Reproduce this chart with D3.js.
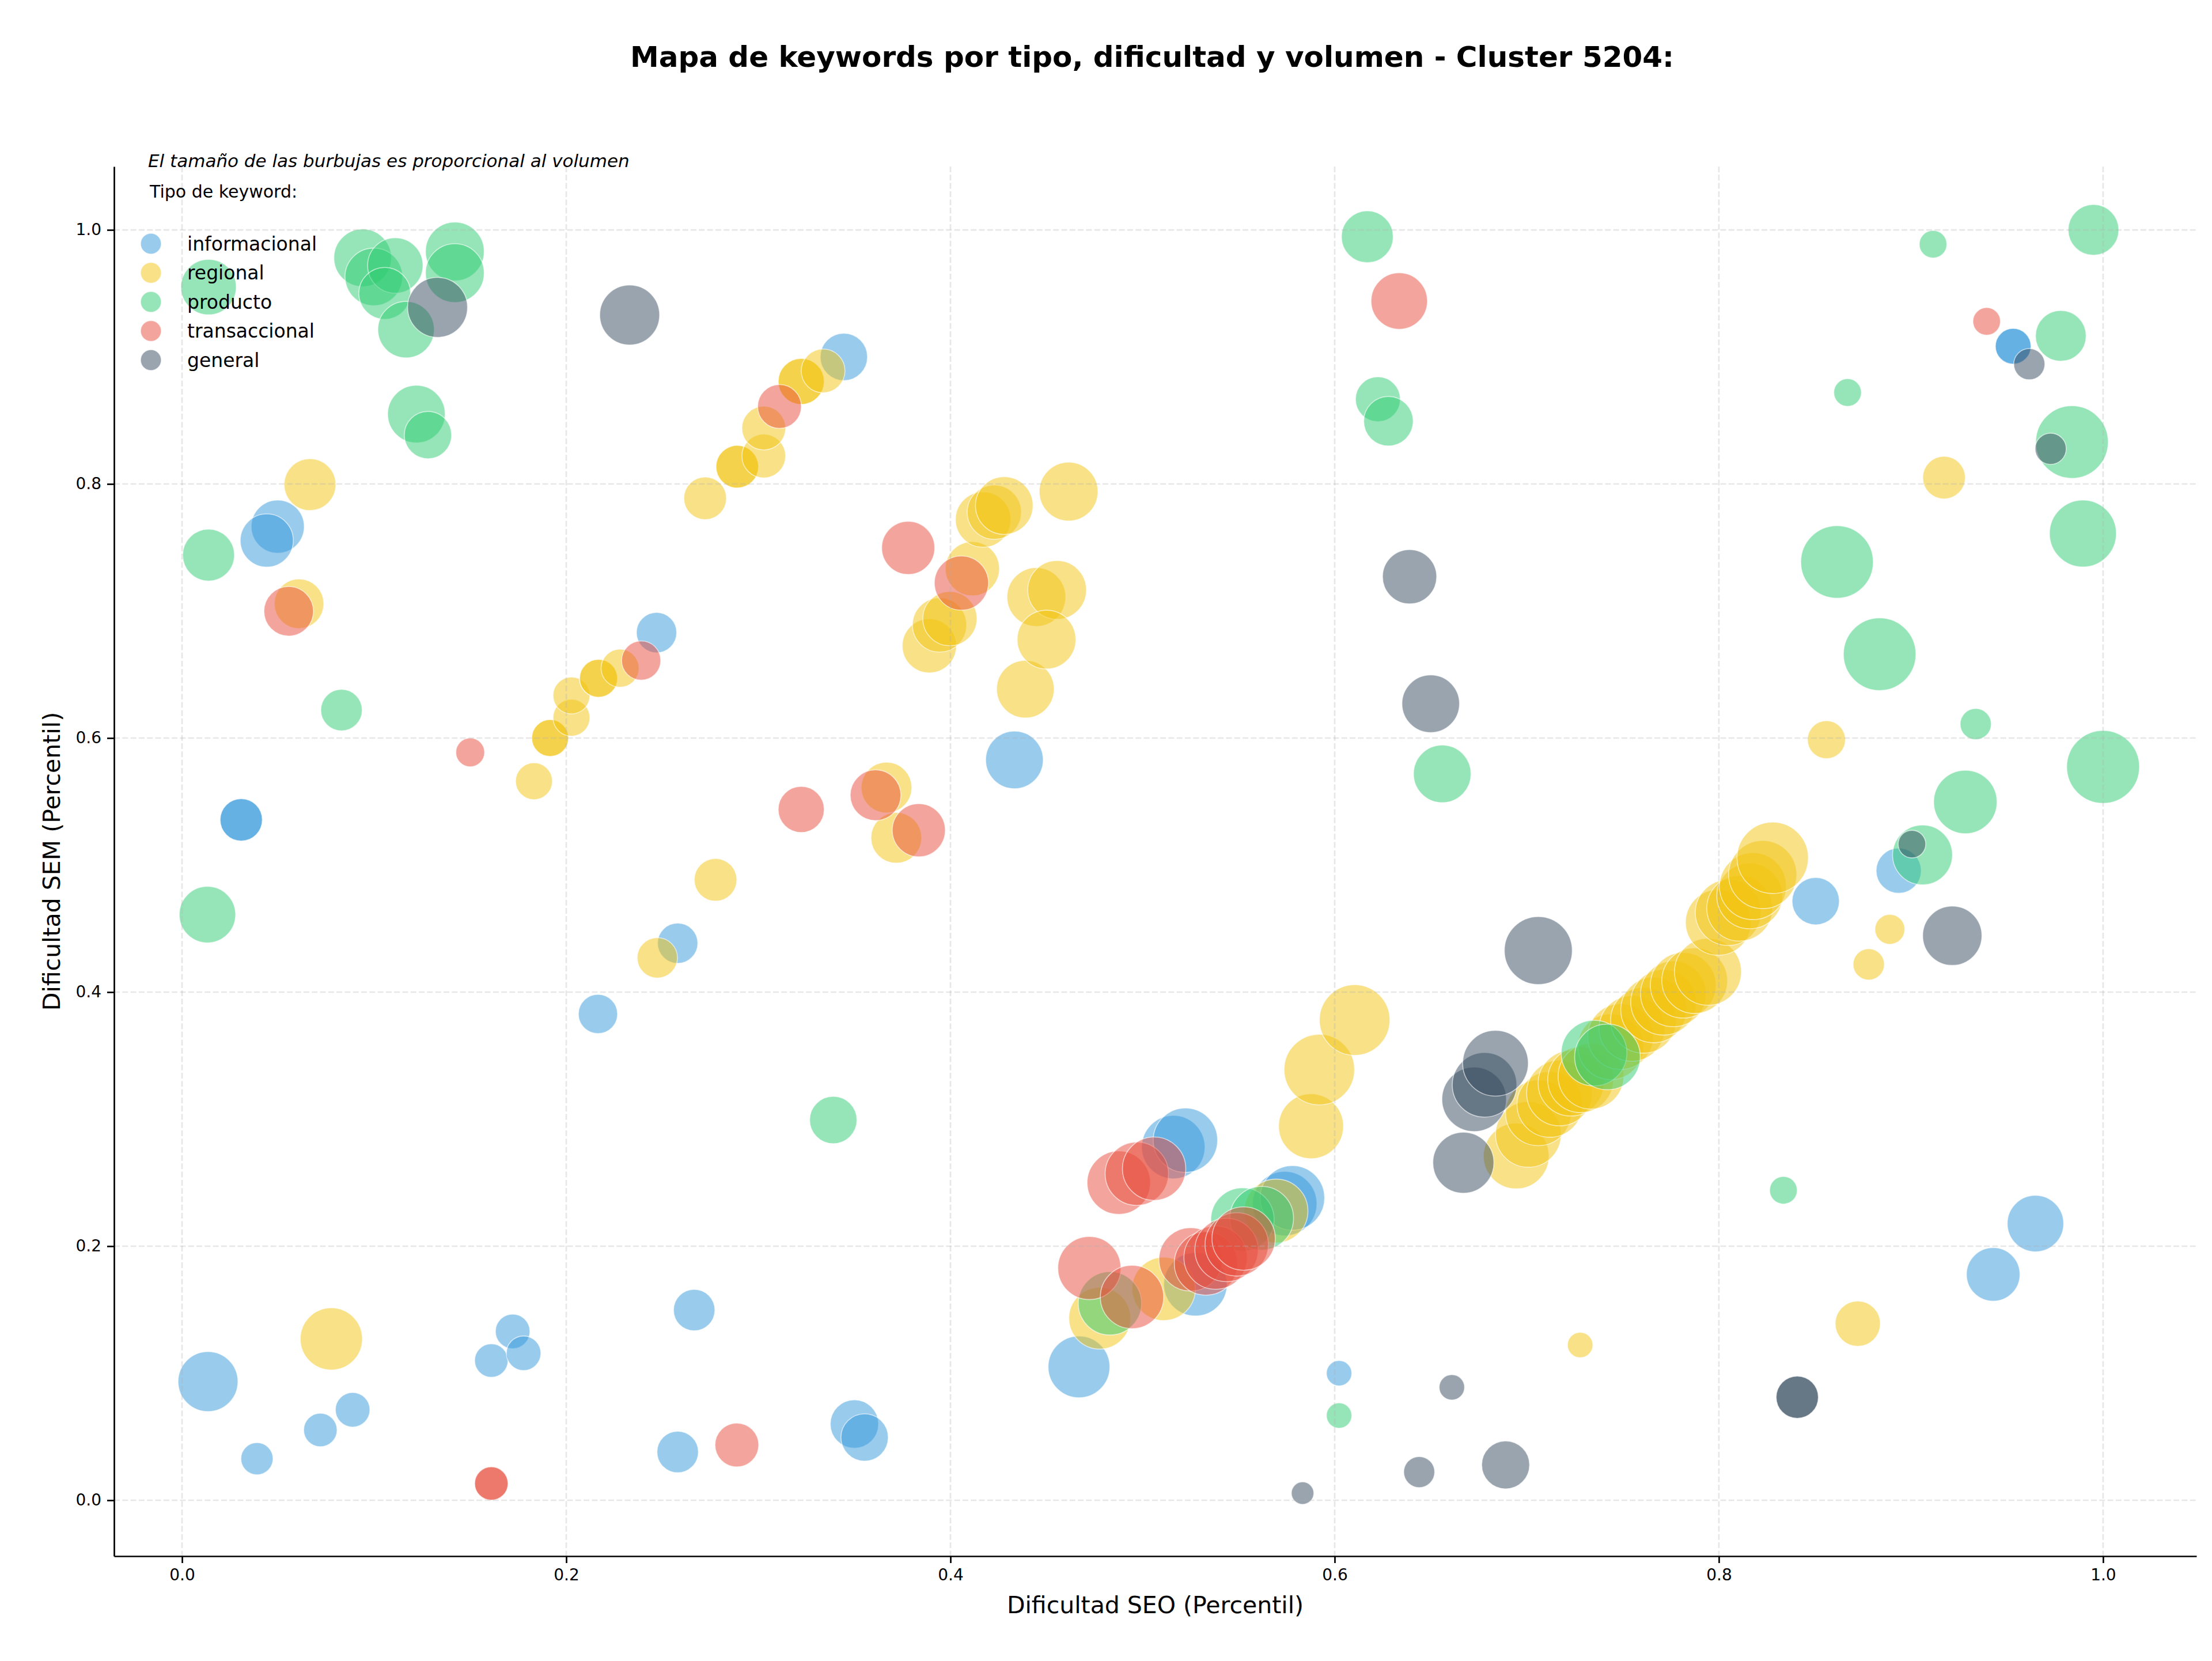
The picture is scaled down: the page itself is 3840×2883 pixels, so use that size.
<!DOCTYPE html>
<html>
<head>
<meta charset="utf-8">
<script src="https://cdn.jsdelivr.net/npm/d3@7"></script>
<style>
  html, body { margin: 0; padding: 0; background: #ffffff; }
  svg { display: block; }
  text { font-family: "DejaVu Sans", sans-serif; }
</style>
</head>
<body>
<script>
// ---------------- DATA ----------------
const categories = ["informacional", "regional", "producto", "transaccional", "general"];
const categoryColors = ["#3498db", "#f1c40f", "#2ecc71", "#e74c3c", "#34495e"];

// [dificultad SEO, dificultad SEM, volumen]
const informacional = [
  [0.0135, 0.0934, 433], [0.0390, 0.0327, 125], [0.0720, 0.0553, 135], [0.0888, 0.0712, 144],
  [0.1610, 0.1100, 135], [0.1721, 0.1329, 144], [0.1778, 0.1157, 144], [0.2666, 0.1497, 207],
  [0.2580, 0.0380, 207], [0.3500, 0.0600, 282], [0.3553, 0.0494, 270], [0.2165, 0.3828, 185],
  [0.2580, 0.4385, 196], [0.2470, 0.6830, 196], [0.0308, 0.5356, 216], [0.0308, 0.5356, 216],
  [0.0498, 0.7664, 340], [0.0441, 0.7555, 340], [0.3445, 0.9000, 270], [0.4333, 0.5828, 400],
  [0.4669, 0.1050, 460], [0.5160, 0.2780, 484], [0.5223, 0.2834, 500], [0.5275, 0.1700, 484],
  [0.5740, 0.2335, 500], [0.5780, 0.2380, 502], [0.6023, 0.1000, 78], [0.8504, 0.4716, 270],
  [0.8936, 0.4956, 246], [0.9428, 0.1778, 346], [0.9648, 0.2178, 384], [0.9532, 0.9084, 154],
  [0.9532, 0.9084, 154]
];

const regional = [
  [0.0666, 0.7995, 324], [0.0609, 0.7057, 296], [0.0777, 0.1270, 466], [0.1832, 0.5660, 164],
  [0.1916, 0.6000, 164], [0.1916, 0.6000, 164], [0.2027, 0.6160, 164], [0.2027, 0.6335, 164],
  [0.2168, 0.6470, 174], [0.2168, 0.6470, 174], [0.2280, 0.6550, 174], [0.2474, 0.4270, 196],
  [0.2777, 0.4884, 219], [0.2723, 0.7887, 219], [0.2890, 0.8136, 219], [0.2890, 0.8136, 219],
  [0.3028, 0.8220, 231], [0.3028, 0.8440, 231], [0.3223, 0.8807, 256], [0.3223, 0.8807, 256],
  [0.3337, 0.8890, 231], [0.3667, 0.5610, 310], [0.3718, 0.5215, 310], [0.3890, 0.6726, 354],
  [0.3943, 0.6890, 354], [0.3997, 0.6940, 354], [0.4114, 0.7333, 354], [0.4170, 0.7720, 370],
  [0.4228, 0.7778, 354], [0.4280, 0.7830, 400], [0.4615, 0.7940, 416], [0.4390, 0.6385, 400],
  [0.4447, 0.7110, 416], [0.4555, 0.7166, 416], [0.4500, 0.6775, 416], [0.4777, 0.1433, 460],
  [0.5110, 0.1664, 484], [0.5695, 0.2277, 490], [0.5877, 0.2944, 508], [0.5920, 0.3390, 600],
  [0.6104, 0.3780, 600], [0.7278, 0.1222, 78], [0.6945, 0.2710, 520], [0.7008, 0.2880, 520],
  [0.7060, 0.3050, 520], [0.7120, 0.3116, 520], [0.7170, 0.3206, 520], [0.7230, 0.3283, 520],
  [0.7280, 0.3310, 520], [0.7334, 0.3338, 520], [0.7437, 0.3570, 520], [0.7488, 0.3650, 520],
  [0.7547, 0.3714, 520], [0.7607, 0.3778, 520], [0.7660, 0.3860, 520], [0.7712, 0.3920, 520],
  [0.7763, 0.3986, 520], [0.7814, 0.4054, 520], [0.7874, 0.4090, 520], [0.7943, 0.4160, 540],
  [0.7997, 0.4549, 520], [0.8048, 0.4626, 520], [0.8108, 0.4660, 520], [0.8160, 0.4757, 520],
  [0.8177, 0.4834, 540], [0.8228, 0.4925, 560], [0.8280, 0.5057, 615], [0.8560, 0.5987, 174],
  [0.8723, 0.1390, 246], [0.8780, 0.4218, 118], [0.8890, 0.4494, 108], [0.9172, 0.8050, 219]
];

const producto = [
  [0.0138, 0.9550, 370], [0.0940, 0.9780, 400], [0.0998, 0.9630, 400], [0.1110, 0.9720, 370],
  [0.1055, 0.9500, 324], [0.1420, 0.9830, 416], [0.1420, 0.9660, 416], [0.1166, 0.9215, 384],
  [0.1220, 0.8550, 400], [0.1280, 0.8385, 270], [0.0138, 0.7440, 324], [0.0830, 0.6220, 207],
  [0.0132, 0.4610, 384], [0.3390, 0.2993, 270], [0.4830, 0.1550, 484], [0.5520, 0.2210, 484],
  [0.5620, 0.2220, 490], [0.6023, 0.0667, 78], [0.6170, 0.9946, 324], [0.6225, 0.8667, 243],
  [0.6280, 0.8494, 296], [0.6560, 0.5718, 400], [0.7350, 0.3520, 520], [0.7420, 0.3490, 520],
  [0.8336, 0.2440, 92], [0.8615, 0.7386, 635], [0.8670, 0.8720, 92], [0.8837, 0.6660, 635],
  [0.9060, 0.5080, 433], [0.9115, 0.9887, 92], [0.9283, 0.5497, 485], [0.9337, 0.6110, 117],
  [0.9780, 0.9166, 310], [0.9838, 0.8330, 635], [0.9895, 0.7610, 540], [0.9950, 1.0000, 310],
  [1.0000, 0.5773, 640]
];

const transaccional = [
  [0.0555, 0.6998, 296], [0.1500, 0.5887, 100], [0.1610, 0.0132, 135], [0.1610, 0.0132, 135],
  [0.2390, 0.6610, 185], [0.2888, 0.0435, 231], [0.3110, 0.8610, 231], [0.3223, 0.5438, 256],
  [0.3610, 0.5550, 310], [0.3835, 0.5274, 340], [0.3780, 0.7497, 340], [0.4057, 0.7220, 354],
  [0.4723, 0.1828, 480], [0.4876, 0.2500, 484], [0.4945, 0.1600, 484], [0.4970, 0.2570, 484],
  [0.5060, 0.2610, 484], [0.5250, 0.1896, 484], [0.5330, 0.1864, 484], [0.5380, 0.1910, 484],
  [0.5437, 0.1970, 484], [0.5490, 0.2014, 484], [0.5526, 0.2060, 484], [0.6336, 0.9440, 384],
  [0.9394, 0.9280, 92]
];

const general = [
  [0.1330, 0.9390, 433], [0.2330, 0.9330, 433], [0.5833, 0.0056, 61], [0.6390, 0.7270, 354],
  [0.6440, 0.0222, 116], [0.6500, 0.6270, 400], [0.6610, 0.0889, 78], [0.6670, 0.2657, 450],
  [0.6726, 0.3156, 502], [0.6780, 0.3270, 502], [0.6837, 0.3440, 520], [0.6890, 0.0278, 277],
  [0.7060, 0.4327, 557], [0.8408, 0.0811, 216], [0.8408, 0.0811, 216], [0.9005, 0.5165, 92],
  [0.9215, 0.4444, 424], [0.9616, 0.8943, 117], [0.9727, 0.8277, 117]
];

const seriesData = [informacional, regional, producto, transaccional, general];
const xTicks = [0.0, 0.2, 0.4, 0.6, 0.8, 1.0];
const yTicks = [0.0, 0.2, 0.4, 0.6, 0.8, 1.0];

const titleText = "Mapa de keywords por tipo, dificultad y volumen - Cluster 5204:";
const xLabel = "Dificultad SEO (Percentil)";
const yLabel = "Dificultad SEM (Percentil)";
const noteText = "El tamaño de las burbujas es proporcional al volumen";
const legendTitle = "Tipo de keyword:";

// ---------------- LAYOUT ----------------
const W = 3840, H = 2883;
const plot = { left: 198, right: 3813, top: 289, bottom: 2701 };

const svg = d3.select("body").append("svg")
  .attr("width", W).attr("height", H)
  .attr("viewBox", `0 0 ${W} ${H}`);

svg.append("rect").attr("width", W).attr("height", H).attr("fill", "#ffffff");

const x = d3.scaleLinear().domain([-0.0354, 1.0486]).range([plot.left, plot.right]);
const y = d3.scaleLinear().domain([-0.044, 1.0499]).range([plot.bottom, plot.top]);
const r = d3.scaleSqrt().domain([0, 1000]).range([0, 79]);

// clip
svg.append("clipPath").attr("id", "plotclip")
  .append("rect")
  .attr("x", plot.left).attr("y", plot.top)
  .attr("width", plot.right - plot.left).attr("height", plot.bottom - plot.top);

// bubbles (drawn per category in legend order)
const bubbles = svg.append("g").attr("clip-path", "url(#plotclip)");
seriesData.forEach((data, i) => {
  bubbles.append("g")
    .selectAll("circle")
    .data(data)
    .join("circle")
    .attr("cx", d => x(d[0]))
    .attr("cy", d => y(d[1]))
    .attr("r", d => r(d[2]))
    .attr("fill", categoryColors[i])
    .attr("fill-opacity", 0.5)
    .attr("stroke", "#ffffff")
    .attr("stroke-opacity", 0.6)
    .attr("stroke-width", 1.6);
});

// grid (above bubbles, like matplotlib default)
const grid = svg.append("g");
grid.selectAll("line.gx").data(xTicks).join("line")
  .attr("x1", d => x(d)).attr("x2", d => x(d))
  .attr("y1", plot.top).attr("y2", plot.bottom)
  .attr("stroke", "#b0b0b0").attr("stroke-opacity", 0.3)
  .attr("stroke-width", 2.7).attr("stroke-dasharray", "10,4.3");
grid.selectAll("line.gy").data(yTicks).join("line")
  .attr("x1", plot.left).attr("x2", plot.right)
  .attr("y1", d => y(d)).attr("y2", d => y(d))
  .attr("stroke", "#b0b0b0").attr("stroke-opacity", 0.3)
  .attr("stroke-width", 2.7).attr("stroke-dasharray", "10,4.3");

// axes
const xAxis = d3.axisBottom(x).tickValues(xTicks).tickFormat(d3.format(".1f"))
  .tickSize(12).tickSizeOuter(0).tickPadding(10);
const yAxis = d3.axisLeft(y).tickValues(yTicks).tickFormat(d3.format(".1f"))
  .tickSize(12).tickSizeOuter(0).tickPadding(10);

const gx = svg.append("g").attr("transform", `translate(0,${plot.bottom})`).call(xAxis);
const gy = svg.append("g").attr("transform", `translate(${plot.left},0)`).call(yAxis);
[gx, gy].forEach(g => {
  g.select(".domain").attr("stroke", "#000").attr("stroke-width", 2.7);
  g.selectAll(".tick line").attr("stroke", "#000").attr("stroke-width", 2.7);
  g.selectAll(".tick text")
    .attr("fill", "#000")
    .style("font-family", "DejaVu Sans, sans-serif")
    .style("font-size", "28px");
});

// axis labels
svg.append("text")
  .attr("x", (plot.left + plot.right) / 2).attr("y", 2800)
  .attr("text-anchor", "middle")
  .style("font-size", "41px")
  .text(xLabel);

svg.append("text")
  .attr("transform", `translate(104,${(plot.top + plot.bottom) / 2}) rotate(-90)`)
  .attr("text-anchor", "middle")
  .style("font-size", "41px")
  .text(yLabel);

// title
svg.append("text")
  .attr("x", 2000).attr("y", 116)
  .attr("text-anchor", "middle")
  .style("font-size", "50px")
  .style("font-weight", "bold")
  .text(titleText);

// note
svg.append("text")
  .attr("x", 257).attr("y", 290)
  .style("font-size", "31px")
  .style("font-style", "italic")
  .text(noteText);

// legend
svg.append("text")
  .attr("x", 260).attr("y", 343)
  .style("font-size", "30px")
  .text(legendTitle);

const legend = svg.append("g");
const legendY = d3.scalePoint().domain(categories).range([423, 625]);
const items = legend.selectAll("g").data(categories).join("g")
  .attr("transform", d => `translate(262,${legendY(d)})`);
items.append("circle")
  .attr("r", 18)
  .attr("fill", (d, i) => categoryColors[i])
  .attr("fill-opacity", 0.5)
  .attr("stroke", "#ffffff").attr("stroke-opacity", 0.6).attr("stroke-width", 1.6);
items.append("text")
  .attr("x", 63)
  .attr("dy", "0.35em")
  .style("font-size", "33px")
  .text(d => d);
</script>
</body>
</html>
